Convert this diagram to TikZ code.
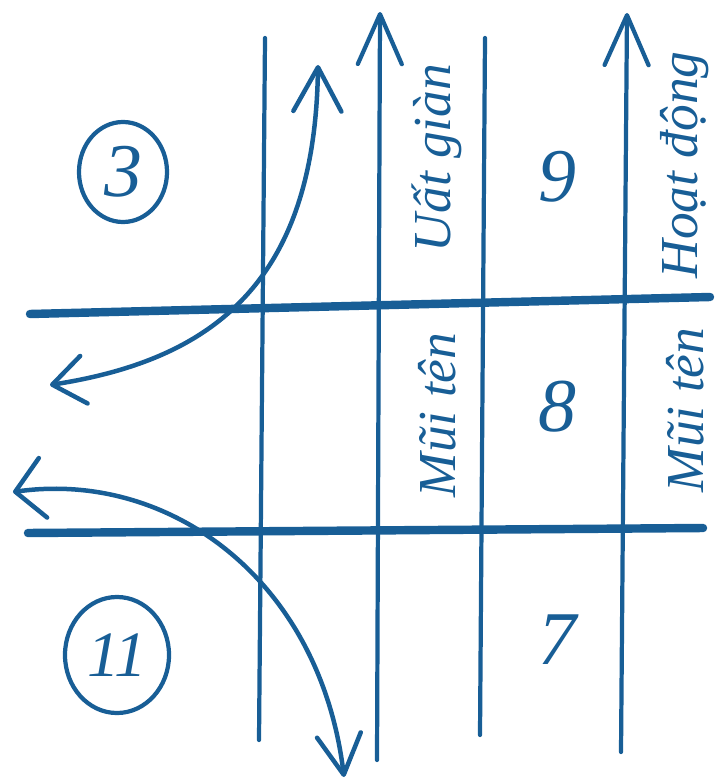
\documentclass[tikz,border=0pt]{standalone}
\usepackage{fontspec}
\setmainfont{Liberation Serif}
\usetikzlibrary{arrows.meta,shapes.geometric}
\definecolor{ink}{RGB}{24,94,150}

\begin{document}
\begin{tikzpicture}[
  x=0.025cm, y=-0.025cm,
  pen/.style={draw=ink, line width=3pt, line cap=round},
  rulebar/.style={draw=ink, line width=6pt, line cap=round},
  uparrow/.style={pen, arrows={-Straight Barb[length=12.5mm, width=11mm, round]}},
  swing/.style={draw=ink, line width=3.2pt, line cap=round},
  num/.style={text=ink, font=\itshape\fontsize{54}{58}\selectfont, inner sep=0pt},
  ring/.style={num, draw=ink, line width=3pt, ellipse, inner sep=0pt},
  word/.style={text=ink, font=\itshape\fontsize{38}{42}\selectfont, inner sep=0pt, rotate=90}
]
\useasboundingbox (0,0) rectangle (723,781);
% grid ends
\coordinate (v1a) at (265,38);  \coordinate (v1b) at (259,740);
\coordinate (v2a) at (380,12);  \coordinate (v2b) at (377,760);
\coordinate (v3a) at (485,38);  \coordinate (v3b) at (480,735);
\coordinate (v4a) at (627,13);  \coordinate (v4b) at (621,752);
\coordinate (h1a) at (30,314);  \coordinate (h1b) at (710,297);
\coordinate (h2a) at (28,533);  \coordinate (h2b) at (703,528);
% curve ends
\coordinate (c1a) at (50,385);  \coordinate (c1b) at (318,65);
\coordinate (c2a) at (13,492);  \coordinate (c2b) at (344,777);

\draw[pen] (v1a) -- (v1b);
\draw[uparrow] (v2b) -- (v2a);
\draw[pen] (v3a) -- (v3b);
\draw[uparrow] (v4b) -- (v4a);
\draw[rulebar] (h1a) -- (h1b);
\draw[rulebar] (h2a) -- (h2b);

\draw[swing, arrows={Straight Barb[length=8mm, width=12mm, round]-Straight Barb[length=11mm, width=12mm, round]}]
  (c1a) .. controls (210,360) and (315,285) .. (c1b);
\draw[swing, arrows={Straight Barb[length=7mm, width=15mm, round]-Straight Barb[length=10mm, width=11mm, round]}]
  (c2a) .. controls (170,470) and (320,580) .. (c2b);

\node[ring, minimum width=2.2cm, minimum height=2.5cm] (r3) at (123,172) {3};
\node[ring, minimum width=2.6cm, minimum height=2.9cm, font=\itshape\fontsize{46}{50}\selectfont] (r11) at (117,655) {11};

\node[num] (n9) at (557,177) {9};
\node[num] (n8) at (557,407) {8};
\node[num] (n7) at (557,640) {7};

\node[word] (wa) at (437,415) {Mũi tên};
\node[word] (wb) at (437,158) {Uất giàn};
\node[word] (wc) at (685,410) {Mũi tên};
\node[word] (wd) at (685,165) {Hoạt động};
\end{tikzpicture}
\end{document}
